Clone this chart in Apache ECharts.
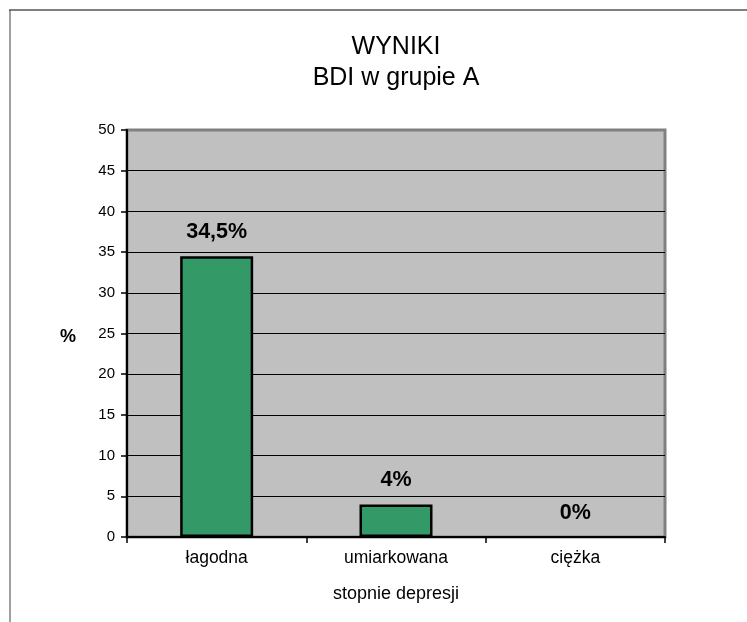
<!DOCTYPE html>
<html>
<head>
<meta charset="utf-8">
<script src="https://cdn.jsdelivr.net/npm/echarts@6/dist/echarts.min.js"></script>
<style>
  html, body { margin: 0; padding: 0; background: #fff; }
  #chart { width: 747px; height: 622px; }
</style>
</head>
<body>
<div id="chart"></div>
<script>
//--------------------------------
// Data
//--------------------------------
const titleLines = ['WYNIKI', 'BDI w grupie A'];
const categories = ['łagodna', 'umiarkowana', 'ciężka'];
const values = [34.5, 4, 0];
const valueLabels = ['34,5%', '4%', '0%'];

//--------------------------------
// Chart
//--------------------------------
const myChart = echarts.init(document.getElementById('chart'));
const font = '"Liberation Sans", Arial, sans-serif';

let options = {
    animation: false,
    textStyle: { fontFamily: font },
    grid: {
        left: 127,
        top: 130,
        width: 538,
        height: 407,
        show: true,
        backgroundColor: '#c0c0c0',
        borderColor: '#808080',
        borderWidth: 3
    },
    xAxis: {
        type: 'category',
        data: categories,
        name: 'stopnie depresji',
        nameLocation: 'middle',
        nameGap: 48,
        nameTextStyle: { fontSize: 18, color: '#000' },
        axisLine: { lineStyle: { color: '#000', width: 2 } },
        axisTick: { show: true, length: 6, lineStyle: { color: '#000', width: 1.5 } },
        axisLabel: { fontSize: 17.5, color: '#000', margin: 12 }
    },
    yAxis: {
        type: 'value',
        min: 0,
        max: 50,
        interval: 5,
        axisLine: { show: true, lineStyle: { color: '#000', width: 2 } },
        axisTick: { show: true, length: 6, lineStyle: { color: '#000', width: 1.5 } },
        axisLabel: { fontSize: 15, color: '#000', margin: 12 },
        splitLine: { show: true, showMaxLine: false, lineStyle: { color: '#000', width: 1 } }
    },
    graphic: [
        { type: 'line', shape: { x1: 9, y1: 10, x2: 747, y2: 10 }, style: { stroke: '#808080', lineWidth: 2 } },
        { type: 'line', shape: { x1: 10, y1: 10, x2: 10, y2: 622 }, style: { stroke: '#404040', lineWidth: 1 } },
        {
            type: 'text', x: 396, y: 47,
            style: { text: titleLines[0], font: '25px ' + font, fill: '#000', textAlign: 'center', textVerticalAlign: 'middle' }
        },
        {
            type: 'text', x: 396, y: 78,
            style: { text: titleLines[1], font: '25px ' + font, fill: '#000', textAlign: 'center', textVerticalAlign: 'middle' }
        },
        {
            type: 'text', x: 60, y: 328,
            style: { text: '%', font: 'bold 18px ' + font, fill: '#000' }
        }
    ],
    series: [
        {
            type: 'bar',
            data: values.map(v => ({
                value: v,
                itemStyle: v === 0 ? { borderWidth: 0 } : {}
            })),
            barWidth: 73,
            itemStyle: { color: '#339966', borderColor: '#000', borderWidth: 2.5 },
            label: {
                show: true,
                position: 'top',
                distance: 13,
                fontSize: 21.5,
                fontWeight: 'bold',
                color: '#000',
                formatter: (p) => valueLabels[p.dataIndex]
            }
        }
    ]
};
myChart.setOption(options);
</script>
</body>
</html>
